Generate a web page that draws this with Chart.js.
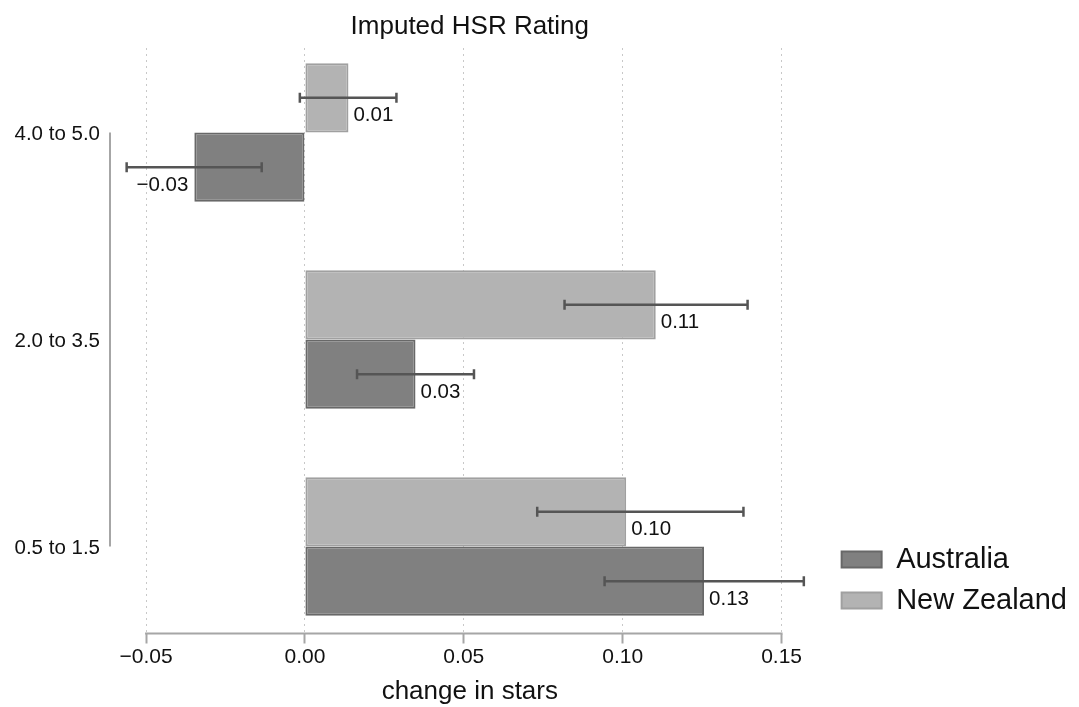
<!DOCTYPE html>
<html><head><meta charset="utf-8">
<script src="https://cdn.jsdelivr.net/npm/chart.js@4/dist/chart.umd.min.js"></script>
<style>html,body{margin:0;padding:0;background:#fff}</style>
</head><body>
<canvas id="c" width="1079" height="707"></canvas>
<script>
const categories = ['4.0 to 5.0', '2.0 to 3.5', '0.5 to 1.5'];
const categoryPos = [0, 1, 2];
const nzValues = [0.0137, 0.1104, 0.1011];
const nzLow    = [-0.0016, 0.0817, 0.0731];
const nzHigh   = [0.0288, 0.1393, 0.1380];
const auValues = [-0.0348, 0.0348, 0.1256];
const auLow    = [-0.0561, 0.0164, 0.0943];
const auHigh   = [-0.0136, 0.0532, 0.1570];
const xTicks = [-0.05, 0, 0.05, 0.10, 0.15];

const X_MIN = -0.06134, X_MAX = 0.16512;
const Y_MIN = -0.40821, Y_MAX = 2.42029;
const FONT = "'Liberation Sans', Arial, sans-serif";
Chart.defaults.font.family = FONT;
Chart.defaults.color = '#111';

const fmt = v => (v < -1e-9 ? '\u2212' : '') + Math.abs(v).toFixed(2);
const lows = [nzLow, auLow], highs = [nzHigh, auHigh], vals = [nzValues, auValues];

const decor = {
  id: 'decor',
  beforeDraw(chart) {
    if (chart.legend) {
      chart.legend.bottom = chart.chartArea.bottom - 6.5;
    }
  },
  afterDatasetsDraw(chart) {
    const ctx = chart.ctx, xs = chart.scales.x, ys = chart.scales.y;
    ctx.save();
    // axis lines spanning tick range
    ctx.strokeStyle = '#a6a6a6'; ctx.lineWidth = 2;
    ctx.beginPath();
    const yb = chart.chartArea.bottom;
    ctx.moveTo(xs.getPixelForValue(xTicks[0]) - 1, yb);
    ctx.lineTo(xs.getPixelForValue(xTicks[xTicks.length - 1]) + 1, yb);
    ctx.stroke();
    ctx.beginPath();
    const xl = chart.chartArea.left;
    ctx.moveTo(xl, ys.getPixelForValue(categoryPos[0]));
    ctx.lineTo(xl, ys.getPixelForValue(categoryPos[categoryPos.length - 1]));
    ctx.stroke();
    // error bars
    ctx.strokeStyle = '#555'; ctx.lineWidth = 2.5;
    for (let d = 0; d < 2; d++) {
      const meta = chart.getDatasetMeta(d);
      meta.data.forEach((bar, i) => {
        const y = bar.y;
        const x1 = xs.getPixelForValue(lows[d][i]), x2 = xs.getPixelForValue(highs[d][i]);
        ctx.beginPath();
        ctx.moveTo(x1, y); ctx.lineTo(x2, y);
        ctx.moveTo(x1, y - 5); ctx.lineTo(x1, y + 5);
        ctx.moveTo(x2, y - 5); ctx.lineTo(x2, y + 5);
        ctx.stroke();
      });
    }
    // value labels
    ctx.font = '20.5px ' + FONT; ctx.fillStyle = '#111'; ctx.textBaseline = 'middle';
    for (let d = 0; d < 2; d++) {
      const meta = chart.getDatasetMeta(d);
      meta.data.forEach((bar, i) => {
        const v = vals[d][i];
        if (v < 0) { ctx.textAlign = 'right'; ctx.fillText(fmt(v), bar.x - 6, bar.y + 18); }
        else { ctx.textAlign = 'left'; ctx.fillText(fmt(v), bar.x + 5, bar.y + 18); }
      });
    }
    ctx.restore();
  }
};

new Chart(document.getElementById('c'), {
  type: 'bar',
  data: {
    datasets: [
      { label: 'New Zealand', data: nzValues.map((v, i) => ({ x: v, y: categoryPos[i] })),
        backgroundColor: '#b3b3b3', borderColor: '#a0a0a0', borderWidth: 2, borderSkipped: false,
        categoryPercentage: 0.67, barPercentage: 1 },
      { label: 'Australia', data: auValues.map((v, i) => ({ x: v, y: categoryPos[i] })),
        backgroundColor: '#808080', borderColor: '#686868', borderWidth: 2, borderSkipped: false,
        categoryPercentage: 0.67, barPercentage: 1 }
    ]
  },
  options: {
    indexAxis: 'y',
    responsive: false,
    animation: false,
    devicePixelRatio: 1,
    layout: { padding: { left: 0, right: 2, top: 0, bottom: 0 } },
    plugins: {
      title: { display: true, text: 'Imputed HSR Rating', fullSize: false, color: '#111',
        font: { size: 26, weight: 'normal' }, padding: { top: 11, bottom: 5.8 } },
      legend: { position: 'right', align: 'end', fullSize: false, reverse: true,
        labels: { boxWidth: 40, boxHeight: 16, padding: 12, color: '#111', font: { size: 29 } } },
      tooltip: { enabled: false }
    },
    scales: {
      x: {
        type: 'linear', position: 'bottom', min: X_MIN, max: X_MAX,
        afterBuildTicks: s => { s.ticks = xTicks.map(v => ({ value: v })); },
        afterFit: s => { s.height = 73.5; },
        border: { display: false, dash: [2, 4] },
        grid: { color: '#c8c8c8', lineWidth: 1, drawTicks: true, tickLength: 10,
          tickColor: '#a6a6a6', tickWidth: 2, tickBorderDash: [] },
        ticks: { font: { size: 21 }, color: '#111', padding: 1, callback: v => fmt(v) },
        title: { display: true, text: 'change in stars', color: '#111', font: { size: 26 }, padding: { top: 0, bottom: 0 } }
      },
      y: {
        type: 'linear', reverse: true, min: Y_MIN, max: Y_MAX, offset: false,
        afterBuildTicks: s => { s.ticks = categoryPos.map(v => ({ value: v })); },
        afterFit: s => { s.width = 110; },
        border: { display: false },
        grid: { display: false, drawTicks: false, offset: false },
        ticks: { font: { size: 20.5 }, color: '#111', padding: 10, labelOffset: 2, callback: v => categories[v] }
      }
    }
  },
  plugins: [decor]
});
</script>
</body></html>
